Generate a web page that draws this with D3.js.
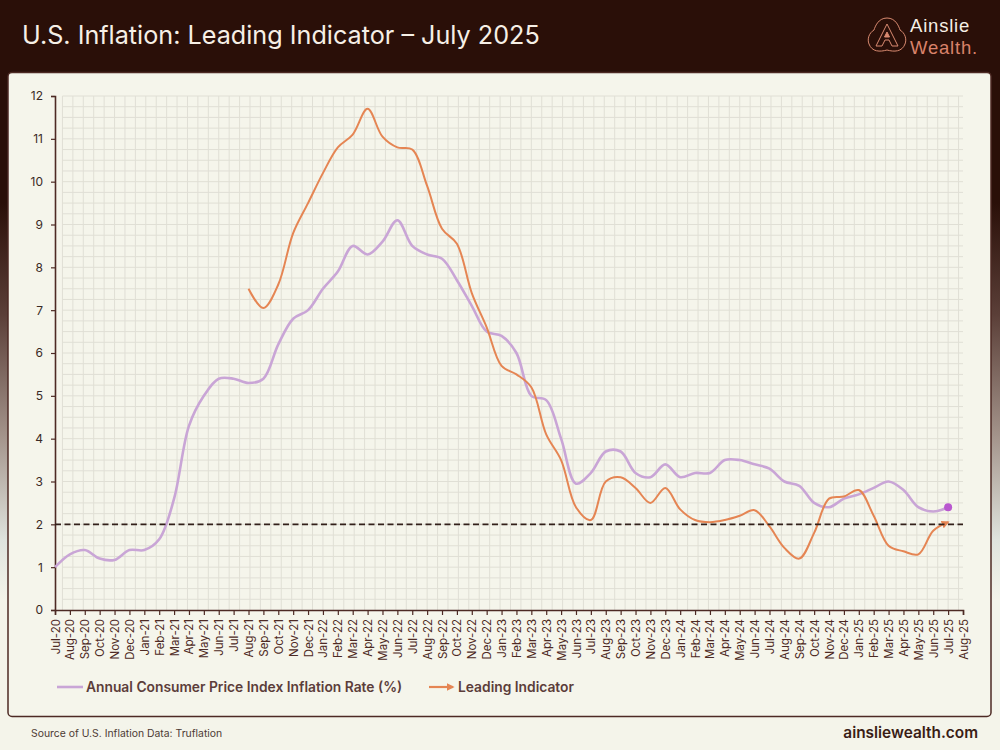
<!DOCTYPE html>
<html>
<head>
<meta charset="utf-8">
<script src="https://cdn.jsdelivr.net/npm/d3@7"></script>
<style>
  html, body { margin: 0; padding: 0; background: #f4f4ea; }
  svg { display: block; }
  text { font-family: Inter, "Liberation Sans", sans-serif; }
</style>
</head>
<body>
<div id="chart"></div>
<script>
// Month labels along the x axis
const months = ["Jul-20","Aug-20","Sep-20","Oct-20","Nov-20","Dec-20",
    "Jan-21","Feb-21","Mar-21","Apr-21","May-21","Jun-21","Jul-21","Aug-21","Sep-21","Oct-21","Nov-21","Dec-21",
    "Jan-22","Feb-22","Mar-22","Apr-22","May-22","Jun-22","Jul-22","Aug-22","Sep-22","Oct-22","Nov-22","Dec-22",
    "Jan-23","Feb-23","Mar-23","Apr-23","May-23","Jun-23","Jul-23","Aug-23","Sep-23","Oct-23","Nov-23","Dec-23",
    "Jan-24","Feb-24","Mar-24","Apr-24","May-24","Jun-24","Jul-24","Aug-24","Sep-24","Oct-24","Nov-24","Dec-24",
    "Jan-25","Feb-25","Mar-25","Apr-25","May-25","Jun-25","Jul-25","Aug-25"]

// Annual CPI, starts Jul-20
const cpiValues = [1.0,1.3,1.4,1.2,1.17,1.4,1.4,1.65,2.6,4.3,5.0,5.4,5.4,5.3,5.4,6.2,6.8,7.0,
    7.5,7.9,8.5,8.3,8.6,9.1,8.5,8.3,8.2,7.7,7.1,6.5,
    6.4,6.0,5.0,4.9,4.0,2.95,3.2,3.7,3.7,3.2,3.1,3.4,
    3.1,3.2,3.2,3.5,3.5,3.4,3.3,3.0,2.9,2.5,2.4,2.6,
    2.7,2.85,3.0,2.8,2.4,2.3,2.4]

// Leading indicator, starts Aug-21
const leadingStart = "Aug-21"
const leadingValues = [7.5,7.05,7.6,8.8,9.5,
    10.2,10.8,11.1,11.7,11.05,10.8,10.75,9.9,8.9,8.55,7.4,6.6,
    5.7,5.5,5.2,4.1,3.5,2.4,2.1,3.0,3.1,2.85,2.5,2.85,
    2.35,2.1,2.05,2.1,2.2,2.33,1.95,1.45,1.2,1.8,2.6,2.65,
    2.8,2.2,1.5,1.37,1.3,1.85,2.05]

const yTicks = [0,1,2,3,4,5,6,7,8,9,10,11,12]
const targetRate = 2

const width = 1000
const height = 750
const dark = "#2a0f08"
const axisColor = "#4d2a24"
const cpiColor = "#c9a5d6"
const leadColor = "#e58553"

const svg = d3.select("#chart").append("svg").attr("width", width).attr("height", height)
const defs = svg.append("defs")

// page background fades from the dark header to cream
const bg = defs.append("linearGradient").attr("id", "bg").attr("x1", 0).attr("x2", 0).attr("y1", 0).attr("y2", 1)
bg.append("stop").attr("offset", "0.27").attr("stop-color", dark)
bg.append("stop").attr("offset", "0.42").attr("stop-color", "#5b3f38")
bg.append("stop").attr("offset", "0.58").attr("stop-color", "#a3938a")
bg.append("stop").attr("offset", "0.72").attr("stop-color", "#dfe3dd")
bg.append("stop").attr("offset", "0.8").attr("stop-color", "#f4f4ea")
svg.append("rect").attr("width", width).attr("height", height).attr("fill", "url(#bg)")
svg.append("rect").attr("y", 717).attr("width", width).attr("height", 33).attr("fill", "#f4f4ea")

// header
svg.append("text").attr("x", 22).attr("y", 44).attr("font-size", 25.2).attr("fill", "#f6efe6").text("U.S. Inflation: Leading Indicator – July 2025")

// logo
const logo = svg.append("g").attr("transform", "translate(887,36)").attr("fill", "none").attr("stroke", "#d98a70").attr("stroke-width", 1)
logo.append("path").attr("d", "M0,-18 C9,-18 12,-9 13,-6 C18,-3 20,3 18,8 C15,16 7,16 0,14 C-7,16 -15,16 -18,8 C-20,3 -18,-3 -13,-6 C-12,-9 -9,-18 0,-18 Z")
logo.append("path").attr("d", "M0,-12 L11,10 L5,10 L2,4 L-2,4 L-5,10 L-11,10 Z")
logo.append("path").attr("d", "M0,-4 L2.5,1 L-2.5,1 Z").attr("fill", "#d98a70")
svg.append("text").attr("x", 910).attr("y", 32).attr("font-size", 18.5).attr("letter-spacing", 0.8)
    .style("font-family", "'Liberation Sans', sans-serif").attr("fill", "#f6efe6").text("Ainslie")
svg.append("text").attr("x", 910).attr("y", 53.5).attr("font-size", 18.5).attr("letter-spacing", 0.8)
    .style("font-family", "'Liberation Sans', sans-serif").attr("fill", "#d9826a").text("Wealth.")

// panel
svg.append("rect").attr("x", 8).attr("y", 72.5).attr("width", 983).attr("height", 644).attr("rx", 4)
    .attr("fill", "#f5f5eb").attr("stroke", axisColor).attr("stroke-width", 1.5)

const x = d3.scaleLinear().domain([0, months.length - 1]).range([55, 963])
const y = d3.scaleLinear().domain([0, 12]).range([610, 96])

// light grid, vertical lines do not line up with the months
const grid = svg.append("g").attr("stroke", "#e0dfd5").attr("stroke-width", 1)
grid.selectAll(".gx").data(d3.range(0.5, 60.99, 0.7)).join("line")
    .attr("x1", d => x(d)).attr("x2", d => x(d)).attr("y1", y(12)).attr("y2", y(0))
grid.selectAll(".gy").data(d3.range(0.25, 12.01, 0.25)).join("line")
    .attr("x1", x(0.5)).attr("x2", x(61)).attr("y1", d => y(d)).attr("y2", d => y(d))

// axes
const xAxis = d3.axisBottom(x).tickValues(d3.range(months.length)).tickFormat(i => months[i]).tickSize(5).tickPadding(3)
const xG = svg.append("g").attr("transform", `translate(0,${y(0)})`).call(xAxis)
xG.selectAll("text").attr("transform", "rotate(-90)").attr("text-anchor", "end")
    .attr("x", -9).attr("y", 0).attr("dy", "0.35em").attr("font-size", 11.5).attr("fill", axisColor)

const yAxis = d3.axisLeft(y).tickValues(yTicks).tickSize(4).tickPadding(8)
const yG = svg.append("g").attr("transform", `translate(${x(0)},0)`).call(yAxis)
yG.selectAll("text").attr("font-size", 12).attr("fill", "#3a2a26")

svg.selectAll(".domain").attr("stroke", axisColor).attr("stroke-width", 1.6)
svg.selectAll(".tick line").attr("stroke", axisColor).attr("stroke-width", 1.2)

const line = d3.line().x(d => x(d.i)).y(d => y(d.v)).curve(d3.curveCatmullRom.alpha(0.5))
const cpiData = cpiValues.map((v, i) => ({ i: i, v: v }))
const leadOffset = months.indexOf(leadingStart)
const leadData = leadingValues.map((v, i) => ({ i: i + leadOffset, v: v }))

defs.append("marker").attr("id", "arrow").attr("viewBox", "0 0 10 10").attr("refX", 8).attr("refY", 5)
    .attr("markerWidth", 8).attr("markerHeight", 8).attr("markerUnits", "userSpaceOnUse").attr("orient", "auto")
    .append("path").attr("d", "M0,0 L10,5 L0,10 Z").attr("fill", leadColor)

svg.append("path").datum(cpiData).attr("d", line).attr("fill", "none").attr("stroke", cpiColor).attr("stroke-width", 2.6)
svg.append("path").datum(leadData).attr("d", line).attr("fill", "none").attr("stroke", leadColor).attr("stroke-width", 2).attr("marker-end", "url(#arrow)")

// 2% target
svg.append("line").attr("x1", x(0)).attr("x2", x(61)).attr("y1", y(targetRate)).attr("y2", y(targetRate))
    .attr("stroke", "#33201a").attr("stroke-width", 1.9).attr("stroke-dasharray", "6 3.5")

// end dot on cpi
const lastCpi = cpiData[cpiData.length - 1]
svg.append("circle").attr("cx", x(lastCpi.i)).attr("cy", y(lastCpi.v)).attr("r", 4).attr("fill", "#b957cf")

// legend
svg.append("line").attr("x1", 57).attr("x2", 83).attr("y1", 687).attr("y2", 687).attr("stroke", cpiColor).attr("stroke-width", 2.6)
svg.append("text").attr("x", 86).attr("y", 692).attr("font-size", 13.8).attr("font-weight", 600).attr("fill", "#5c3d3a").text("Annual Consumer Price Index Inflation Rate (%)")
svg.append("line").attr("x1", 429).attr("x2", 453).attr("y1", 687).attr("y2", 687).attr("stroke", leadColor).attr("stroke-width", 2.2).attr("marker-end", "url(#arrow)")
svg.append("text").attr("x", 458).attr("y", 692).attr("font-size", 13.8).attr("font-weight", 600).attr("fill", "#5c3d3a").text("Leading Indicator")

// footer
svg.append("text").attr("x", 31).attr("y", 737).attr("font-size", 10.4).attr("fill", "#4d3a34").text("Source of U.S. Inflation Data: Truflation")
svg.append("text").attr("x", 978).attr("y", 738).attr("text-anchor", "end").attr("font-size", 15.4).attr("font-weight", 600).attr("fill", "#3a1d16").text("ainsliewealth.com")
</script>
</body>
</html>
